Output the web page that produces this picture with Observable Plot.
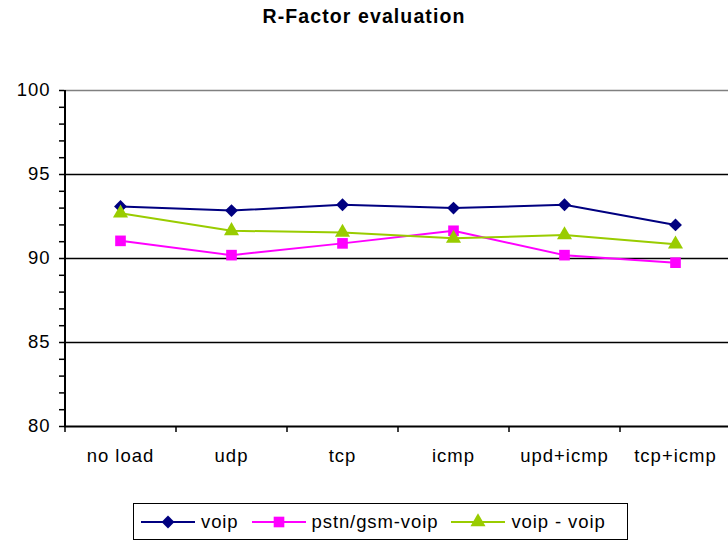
<!DOCTYPE html>
<html><head><meta charset="utf-8">
<script src="https://cdn.jsdelivr.net/npm/d3@7"></script>
<script src="https://cdn.jsdelivr.net/npm/@observablehq/plot@0.6"></script>
<style>
body{margin:0;background:#fff;font-family:"Liberation Sans",Arial,sans-serif;color:#000;}
#wrap{position:relative;width:728px;height:545px;overflow:hidden;background:#fff}
#chart{position:absolute;left:0;top:0}
#title{position:absolute;top:5px;left:0;width:728px;text-align:center;font-weight:bold;font-size:19.5px;letter-spacing:1.1px}
#legend{position:absolute;left:133px;top:503px;width:495px;height:37px;border:1.5px solid #000;box-sizing:border-box;display:flex;align-items:center;padding-left:7px;font-size:18.5px;letter-spacing:0.9px}
.item{display:flex;align-items:center;margin-right:13px}
.item svg{margin-right:6px}
</style></head><body>
<div id="wrap"><div id="chart"></div><div id="title">R-Factor evaluation</div><div id="legend"></div></div>
<script>
const categories = ["no load", "udp", "tcp", "icmp", "upd+icmp", "tcp+icmp"];
const voip = [93.1, 92.85, 93.2, 93.0, 93.2, 92.0];
const pstnGsmVoip = [91.05, 90.2, 90.9, 91.65, 90.2, 89.75];
const voipVoip = [92.7, 91.65, 91.55, 91.2, 91.4, 90.85];
const seriesNames = ["voip", "pstn/gsm-voip", "voip - voip"];
const seriesValues = [voip, pstnGsmVoip, voipVoip];
const seriesColors = ["#000080", "#FF00FF", "#99CC00"];
const seriesSymbols = ["diamond2", "square", "triangle"];
const seriesR = [5.8, 6.0, 5.6];
const yMajor = [80, 85, 90, 95, 100];
const yMinor = d3.range(80, 101, 1);

const xRange = [64, 730];
const step = (xRange[1] - xRange[0]) / categories.length;

const data = seriesNames.flatMap((s, i) => categories.map((c, j) => ({series: s, cat: c, value: seriesValues[i][j]})));

const chart = Plot.plot({
  width: 728, height: 470,
  marginTop: 90, marginBottom: 44, marginLeft: 64, marginRight: 0,
  style: {fontFamily: "'Liberation Sans', Arial, sans-serif", fontSize: "18.5px", letterSpacing: "1px", color: "#000", background: "transparent", overflow: "visible"},
  x: {type: "point", domain: categories, range: xRange, padding: 0.5},
  y: {domain: [80, 100]},
  color: {domain: seriesNames, range: seriesColors},
  marks: [
    Plot.ruleY([85, 90, 95], {stroke: "#000", strokeWidth: 1.6}),
    Plot.ruleY([100], {stroke: "#808080", strokeWidth: 1.6}),
    Plot.axisY({ticks: yMinor, tickSize: 5, tickPadding: 9, strokeWidth: 1.5, label: null,
      tickFormat: d => yMajor.includes(d) ? String(d) : ""}),
    Plot.axisX({ticks: categories, tickSize: 6, dx: -step / 2, strokeWidth: 1.5, tickFormat: () => "", label: null}),
    Plot.axisX({ticks: categories, tickSize: 0, tickPadding: 22, label: null}),
    Plot.ruleY([80], {stroke: "#000", strokeWidth: 2}),
    Plot.ruleX([categories[0]], {y1: 80, y2: 100, dx: -step / 2, stroke: "#000", strokeWidth: 2}),
    Plot.line(data, {x: "cat", y: "value", z: "series", stroke: "series", strokeWidth: 2}),
    ...seriesNames.map((s, i) => Plot.dot(data.filter(d => d.series === s), {
      x: "cat", y: "value", fill: seriesColors[i], symbol: seriesSymbols[i], r: seriesR[i], stroke: "none"
    }))
  ]
});
document.getElementById("chart").append(chart);

// legend
const legend = d3.select("#legend");
const symMap = {diamond2: d3.symbolDiamond2, square: d3.symbolSquare, triangle: d3.symbolTriangle};
seriesNames.forEach((s, i) => {
  const item = legend.append("div").attr("class", "item");
  const svg = item.append("svg").attr("width", 54).attr("height", 20);
  svg.append("line").attr("x1", 0).attr("x2", 54).attr("y1", 10).attr("y2", 10)
    .attr("stroke", seriesColors[i]).attr("stroke-width", 2);
  svg.append("path").attr("transform", "translate(27,10)")
    .attr("d", d3.symbol(symMap[seriesSymbols[i]], Math.PI * seriesR[i] * seriesR[i])())
    .attr("fill", seriesColors[i]);
  item.append("span").text(s);
});
</script>
</body></html>
